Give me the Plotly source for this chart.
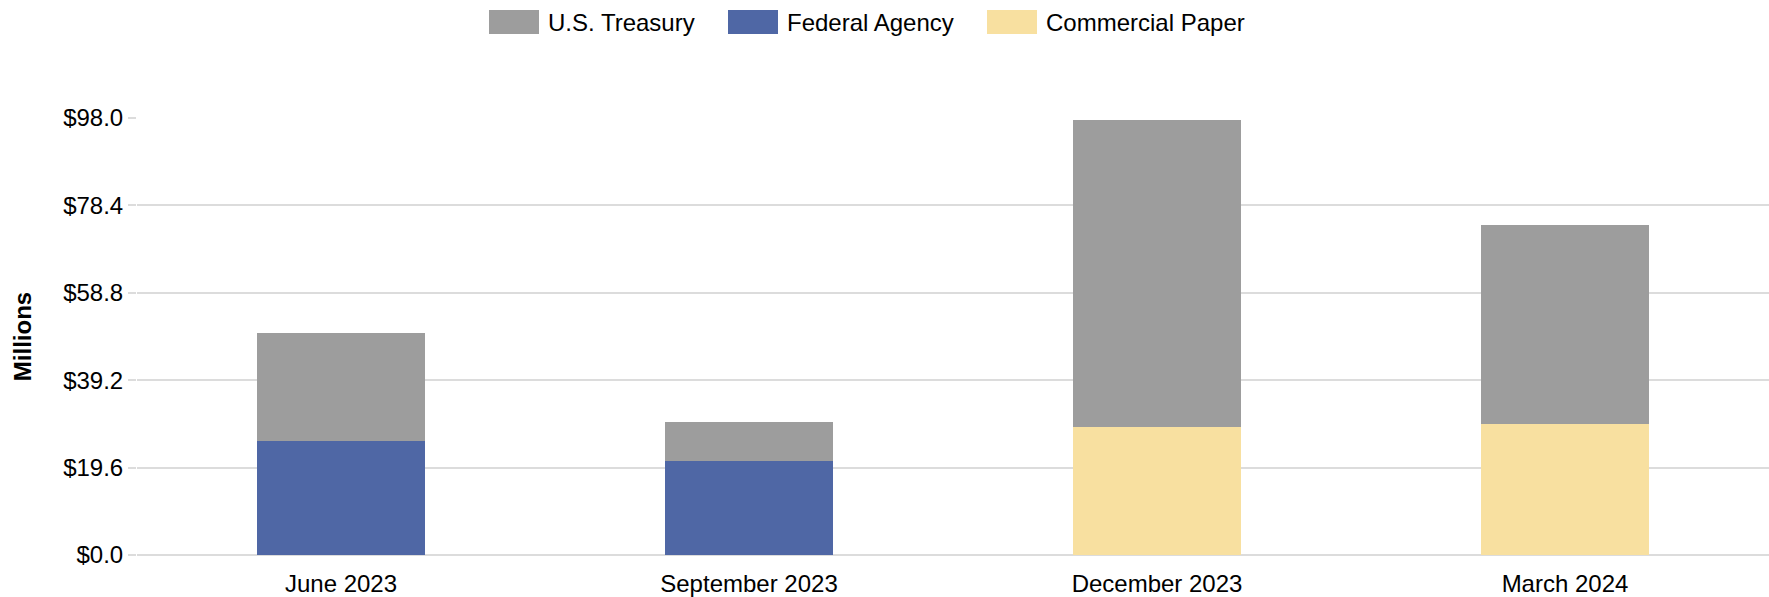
import plotly.graph_objects as go

# data (millions of dollars)
quarters = ["June 2023", "September 2023", "December 2023", "March 2024"]
federal_agency = [25.5, 21.0, 0, 0]
commercial_paper = [0, 0, 28.8, 29.4]
us_treasury = [24.2, 8.9, 68.8, 44.5]
y_ticks = [0.0, 19.6, 39.2, 58.8, 78.4, 98.0]
y_tick_text = [f"${v:.1f}" for v in y_ticks]

GRAY = "#9d9d9d"
BLUE = "#4f67a5"
YELLOW = "#f8e0a0"
FONT = "Liberation Sans, Arial, sans-serif"

W, H = 1769, 597
L, R, T, B = 137, 0, 118, 42

fig = go.Figure()
fig.add_bar(x=quarters, y=federal_agency, name="Federal Agency", marker_color=BLUE)
fig.add_bar(x=quarters, y=commercial_paper, name="Commercial Paper", marker_color=YELLOW)
fig.add_bar(x=quarters, y=us_treasury, name="U.S. Treasury", marker_color=GRAY)
fig.update_traces(marker_line_width=0, hoverinfo="x+y+name")

# legend drawn by hand so the swatches match the wide blocks of the original
def px_x(p):
    return (p - L) / (W - L - R)

def px_y(p):
    return (H - B - p) / (H - T - B)

legend_items = [("U.S. Treasury", GRAY, 489), ("Federal Agency", BLUE, 728), ("Commercial Paper", YELLOW, 987)]
for label, color, x0 in legend_items:
    fig.add_shape(type="rect", xref="paper", yref="paper",
                  x0=px_x(x0), x1=px_x(x0 + 50), y0=px_y(34), y1=px_y(10),
                  fillcolor=color, line_width=0)
    fig.add_annotation(text=label, xref="paper", yref="paper",
                       x=px_x(x0 + 57), y=px_y(22), xanchor="left", yanchor="middle",
                       showarrow=False, font=dict(size=24, color="#000000"))

fig.update_layout(
    width=W, height=H,
    margin=dict(l=L, r=R, t=T, b=B, autoexpand=False),
    barmode="stack", bargap=0.59,
    showlegend=False,
    plot_bgcolor="white", paper_bgcolor="white",
    font=dict(family=FONT, size=24, color="#000000"),
)
fig.update_xaxes(
    showgrid=False, showline=False, ticks="", ticklabelstandoff=12,
    tickfont=dict(size=24),
)
fig.update_yaxes(
    range=[0, 98], tickvals=y_ticks, ticktext=y_tick_text,
    showgrid=True, gridcolor="#dcdcdc", gridwidth=2,
    zeroline=True, zerolinecolor="#dcdcdc", zerolinewidth=2,
    ticks="outside", ticklen=8, tickcolor="#dcdcdc", tickwidth=2,
    tickfont=dict(size=24),
    title=dict(text="<b>Millions</b>", font=dict(size=24), standoff=24),
)

# page body has a default 8px margin; drop it so the figure fills the window
fig.write_html("out.html", config={"displayModeBar": False},
               post_script="document.body.style.margin='0';")
